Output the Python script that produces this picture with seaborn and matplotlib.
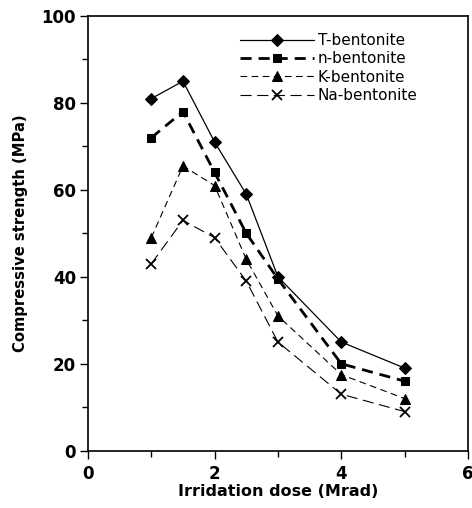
import matplotlib
matplotlib.use("Agg")
import matplotlib.pyplot as plt
import seaborn as sns
import pandas as pd
from matplotlib.ticker import MultipleLocator

dose = [1, 1.5, 2, 2.5, 3, 4, 5]
t_bentonite = [81, 85, 71, 59, 40, 25, 19]
n_bentonite = [72, 78, 64, 50, 39.5, 20, 16]
k_bentonite = [49, 65.5, 61, 44, 31, 17.5, 12]
na_bentonite = [43, 53, 49, 39, 25, 13, 9]
series_names = ["T-bentonite", "n-bentonite", "K-bentonite", "Na-bentonite"]

sns.set_theme(style="ticks")
plt.rcParams['font.family'] = ['DejaVu Sans']
plt.rcParams['text.color'] = 'black'
plt.rcParams['axes.labelcolor'] = 'black'
plt.rcParams['xtick.labelcolor'] = 'black'
plt.rcParams['ytick.labelcolor'] = 'black'

fig = plt.figure(figsize=(4.72, 5.08), dpi=100)
ax = fig.add_axes([0.1864, 0.1128, 0.805, 0.8557])

styles = [
    dict(marker='D', markersize=6, linewidth=0.9, linestyle='-'),
    dict(marker='s', markersize=5.5, linewidth=2.0, dashes=(4, 2.5)),
    dict(marker='^', markersize=7, linewidth=0.8, dashes=(6, 4)),
    dict(marker='x', markersize=7, markeredgewidth=1.3, linewidth=0.8, dashes=(10, 5)),
]
all_vals = [t_bentonite, n_bentonite, k_bentonite, na_bentonite]
for name, vals, st in zip(series_names, all_vals, styles):
    df = pd.DataFrame({"dose": dose, "val": vals})
    sns.lineplot(data=df, x="dose", y="val", ax=ax, color='black', label=name,
                 markeredgecolor='black', **st)

ax.set_xlim(0, 6)
ax.set_ylim(0, 100)
ax.xaxis.set_major_locator(MultipleLocator(2))
ax.xaxis.set_minor_locator(MultipleLocator(1))
ax.yaxis.set_major_locator(MultipleLocator(20))
ax.yaxis.set_minor_locator(MultipleLocator(10))
ax.tick_params(which='both', direction='out', color='black', width=1)
ax.tick_params(which='major', length=6, labelsize=12)
ax.tick_params(axis='y', which='major', pad=2.5)
ax.tick_params(axis='x', which='major', pad=4)
ax.tick_params(which='minor', length=4)
for lab in ax.get_xticklabels() + ax.get_yticklabels():
    lab.set_fontweight('bold')
for sp in ax.spines.values():
    sp.set_color('black')
    sp.set_linewidth(1.2)

ax.set_xlabel("Irridation dose (Mrad)", fontsize=11.5, fontweight='bold', labelpad=1)
ax.set_ylabel("Compressive strength (MPa)", fontsize=10.6, fontweight='bold', labelpad=10)

leg = ax.legend(loc='upper left', bbox_to_anchor=(0.385, 0.975), frameon=False,
                fontsize=11, handlelength=4.8, handletextpad=0.25, labelspacing=0.22,
                borderaxespad=0)

fig.savefig("out.png", dpi=100)
